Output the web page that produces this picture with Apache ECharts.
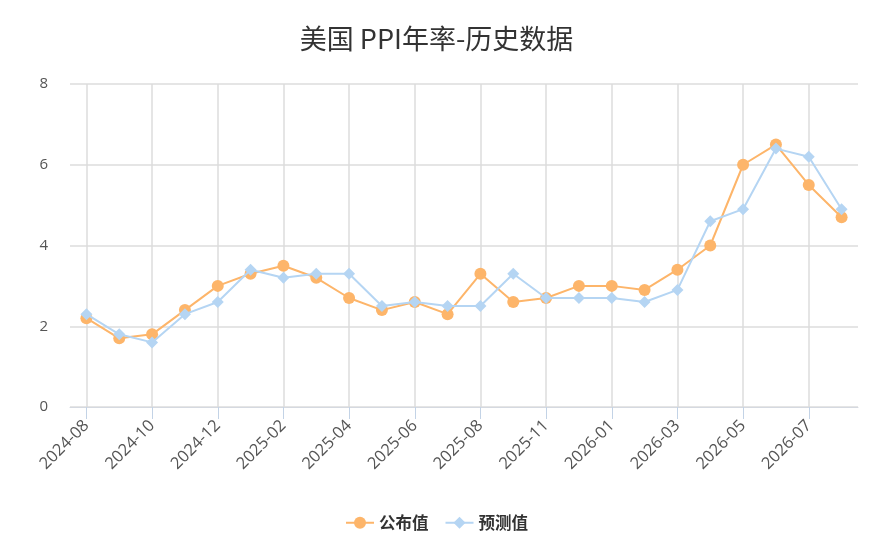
<!DOCTYPE html>
<html><head><meta charset="utf-8">
<script src="https://cdn.jsdelivr.net/npm/echarts@6/dist/echarts.min.js"></script>
<style>html,body{margin:0;padding:0;background:#fff}#c{width:873px;height:552px}</style>
</head><body><div id="c"></div>
<script>
const categories = ['2024-08','2024-09','2024-10','2024-11','2024-12','2025-01','2025-02','2025-03','2025-04','2025-05','2025-06','2025-07','2025-08','2025-10','2025-11','2025-12','2026-01','2026-02','2026-03','2026-04','2026-05','2026-06','2026-07','2026-08'];
const actual = [2.2,1.7,1.8,2.4,3.0,3.3,3.5,3.2,2.7,2.4,2.6,2.3,3.3,2.6,2.7,3.0,3.0,2.9,3.4,4.0,6.0,6.5,5.5,4.7];
const forecast = [2.3,1.8,1.6,2.3,2.6,3.4,3.2,3.3,3.3,2.5,2.6,2.5,2.5,3.3,2.7,2.7,2.7,2.6,2.9,4.6,4.9,6.4,6.2,4.9];
const yTicks = [0,2,4,6,8];

const chart = echarts.init(document.getElementById('c'));
chart.setOption({
  animation: false,
  title: {
    text: '美国 PPI年率-历史数据', left: 'center', top: 20,
    textStyle: {fontSize: 27, fontWeight: 'normal', color: '#333', fontFamily: 'Noto Sans CJK SC'}
  },
  legend: {
    bottom: 16, left: 'center', itemGap: 16, itemWidth: 28, itemHeight: 15,
    textStyle: {fontSize: 16.5, fontWeight: 'bold', color: '#333', fontFamily: 'Noto Sans CJK SC'},
    data: ['公布值', '预测值']
  },
  grid: {left: 70, right: 15, top: 84, bottom: 145, containLabel: false},
  xAxis: {
    type: 'category', data: categories, boundaryGap: true,
    axisLine: {show: true, lineStyle: {color: '#d5d9e0'}},
    axisTick: {show: true, interval: 1, alignWithLabel: true, length: 12, lineStyle: {color: '#c3d3e6'}},
    axisLabel: {interval: 1, rotate: 45, color: '#555', fontSize: 16.5, margin: 16, fontFamily: 'Open Sans'},
    splitLine: {show: true, interval: 1, alignWithLabel: true, lineStyle: {color: '#dcdcdc', width: 1.5}}
  },
  yAxis: {
    type: 'value', min: yTicks[0], max: yTicks[yTicks.length-1], interval: 2,
    axisLine: {show: false}, axisTick: {show: false},
    axisLabel: {color: '#555', fontSize: 15, margin: 22, fontFamily: 'Open Sans'},
    splitLine: {lineStyle: {color: '#dcdcdc', width: 1.5}}
  },
  series: [
    {name: '公布值', type: 'line', data: actual, symbol: 'circle', symbolSize: 12,
     itemStyle: {color: '#FDB56A'}, lineStyle: {color: '#FDB56A', width: 2}, z: 2},
    {name: '预测值', type: 'line', data: forecast, symbol: 'diamond', symbolSize: 12,
     itemStyle: {color: '#B5D5F3'}, lineStyle: {color: '#B5D5F3', width: 2}, z: 3}
  ]
});
</script></body></html>
